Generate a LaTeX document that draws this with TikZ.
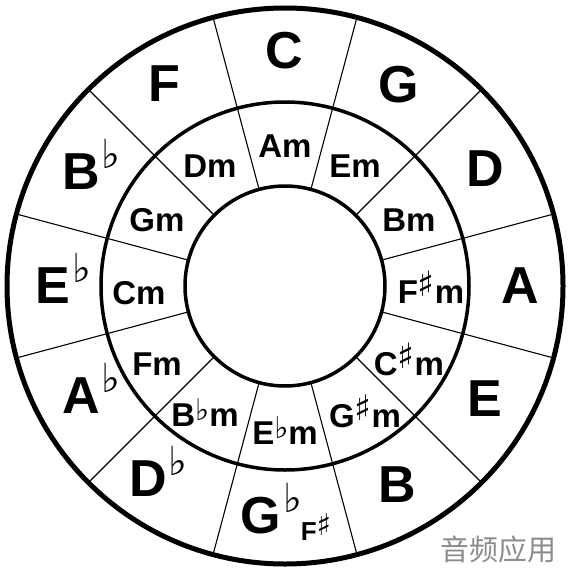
\documentclass[tikz,border=0pt]{standalone}
\usepackage{fontspec}
\setmainfont{Liberation Sans}
\newfontfamily\symf{DejaVu Sans}
\newfontfamily\cjk{Noto Sans CJK SC}
\newcommand{\bigflat}{\rlap{\smash{\raisebox{21pt}{\hspace{2pt}\fontsize{40}{40}\symf ♭}}}}
\newcommand{\mflat}{\smash{\raisebox{6pt}{\fontsize{30}{30}\symf ♭}}}
\newcommand{\msharp}{\smash{\raisebox{7pt}{\fontsize{35}{35}\symf ♯}}}
\newcommand{\ssharp}{\smash{\raisebox{5pt}{\fontsize{30}{30}\symf ♯}}}
\tikzset{
  ring/.style={line width=3.5pt},
  outerring/.style={line width=5pt},
  spoke/.style={line width=1.1pt},
  major/.style={inner sep=0pt, font=\bfseries\fontsize{52}{52}\selectfont},
  minor/.style={inner sep=0pt, font=\bfseries\fontsize{33}{33}\selectfont},
  alt/.style={inner sep=0pt, font=\bfseries\fontsize{26}{26}\selectfont},
  wmark/.style={inner sep=0pt, text=black!45, font=\cjk\fontsize{29}{29}\selectfont}
}
\begin{document}
\begin{tikzpicture}[x=1pt,y=-1pt]
\useasboundingbox[fill=white] (0,0) rectangle (570,573);
\coordinate (O) at (285,286);
\foreach \a in {15,45,...,345}
  \draw[spoke] ([shift={(\a:100)}]O) -- ([shift={(\a:278)}]O);
\draw[outerring] (O) circle[radius=278pt];
\draw[ring] (O) circle[radius=184pt];
\draw[ring] (O) circle[radius=100pt];
% major keys
\node[major] (C)  at (284,51)  {C};
\node[major] (G)  at (399,85)  {G};
\node[major] (D)  at (485,169) {D};
\node[major] (A)  at (520,286) {A};
\node[major] (E)  at (485,399) {E};
\node[major] (B)  at (397,485) {B};
\node[major] (Gb) at (261,516) {G\bigflat};
\node[alt]   (Fs) at (316,532) {F\ssharp};
\node[major] (Db) at (148,479) {D\bigflat};
\node[major] (Ab) at (81,396)  {A\bigflat};
\node[major] (Eb) at (53,286)  {E\bigflat};
\node[major] (Bb) at (81,172)  {B\bigflat};
\node[major] (F)  at (164,84)  {F};
% minor keys
\node[minor] (Am)  at (285,146) {Am};
\node[minor] (Em)  at (355,166) {Em};
\node[minor] (Bm)  at (409,220) {Bm};
\node[minor] (Fsm) at (431,292) {F\msharp m};
\node[minor] (Csm) at (409,364) {C\msharp m};
\node[minor] (Gsm) at (365,416) {G\msharp m};
\node[minor] (Ebm) at (285,433) {E\mflat m};
\node[minor] (Bbm) at (205,415) {B\mflat m};
\node[minor] (Fm)  at (157,364) {Fm};
\node[minor] (Cm)  at (139,293) {Cm};
\node[minor] (Gm)  at (157,220) {Gm};
\node[minor] (Dm)  at (210,166) {Dm};
% watermark
\node[wmark] (wm) at (498,549) {音频应用};
\end{tikzpicture}
\end{document}
